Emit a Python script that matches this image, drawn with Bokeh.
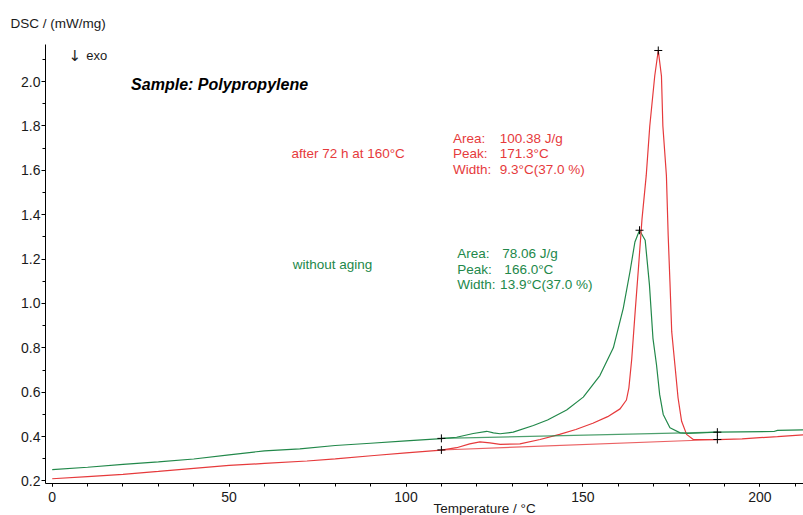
from bokeh.plotting import figure
from bokeh.models import (Range1d, SingleIntervalTicker, PrintfTickFormatter,
                          Label, Title)
from bokeh.embed import file_html
from bokeh.resources import INLINE

# ---------------- data ----------------
# without aging (green)
t_green = [0, 10, 20, 30, 40, 50, 60, 70, 80, 90, 100, 110, 114.3, 119, 122.8,
           124.7, 126.6, 130.3, 136, 140, 145.4, 150.1, 154.8, 158.6, 161.4,
           163.3, 164.7, 166.0, 167.6, 168.8, 169.8, 170.8, 171.7, 172.7,
           174.6, 177.5, 179.5, 188, 204, 205, 212.5]
dsc_green = [0.251, 0.262, 0.275, 0.286, 0.299, 0.318, 0.336, 0.345, 0.360,
             0.370, 0.381, 0.391, 0.397, 0.414, 0.424, 0.417, 0.413, 0.420,
             0.450, 0.475, 0.520, 0.578, 0.675, 0.800, 0.978, 1.143, 1.277,
             1.330, 1.285, 1.085, 0.843, 0.724, 0.589, 0.500, 0.440, 0.417,
             0.414, 0.420, 0.423, 0.428, 0.430]

# after 72 h at 160 °C (red)
t_red = [0, 10, 20, 30, 40, 50, 60, 72, 80, 91, 100, 110, 114.3, 118, 120.9,
         123.7, 126.6, 132.2, 137.9, 143.4, 148, 152.8, 157, 160.5, 162.3,
         163.0, 163.8, 164.8, 165.7, 166.7, 167.9, 168.9, 170.3, 171.3, 172.2,
         172.6, 173.6, 174.1, 174.6, 175.1, 176.0, 176.9, 177.9, 179.3, 181.2,
         188, 195, 200, 205, 212.5]
dsc_red = [0.210, 0.220, 0.230, 0.243, 0.257, 0.270, 0.279, 0.290, 0.300,
           0.315, 0.327, 0.339, 0.350, 0.367, 0.376, 0.372, 0.365, 0.367,
           0.387, 0.410, 0.432, 0.460, 0.490, 0.525, 0.565, 0.620, 0.750,
           0.970, 1.160, 1.380, 1.577, 1.800, 2.025, 2.140, 2.025, 1.800,
           1.577, 1.307, 1.098, 0.873, 0.724, 0.574, 0.469, 0.410, 0.387,
           0.386, 0.390, 0.395, 0.400, 0.408]

# integration baselines (start / end)
base_t = [110, 188]
base_green = [0.392, 0.420]
base_red = [0.340, 0.387]

# peak markers
peak_t = [171.3, 166.0]
peak_v = [2.140, 1.330]

x_ticks_interval = 50
y_ticks_interval = 0.2

red = "#e63a3c"
green = "#22884a"
FONT = "Liberation Sans"

red_lines = ["Area:", "Peak:", "Width:"]
red_vals = ["100.38 J/g", "171.3°C", "9.3°C(37.0 %)"]
green_lines = ["Area:", "Peak:", "Width:"]
green_vals = ["78.06 J/g", "166.0°C", "13.9°C(37.0 %)"]

# ---------------- figure ----------------
p = figure(width=803, height=515, output_backend="svg", toolbar_location=None,
           x_range=Range1d(-1.9, 212.35), y_range=Range1d(0.1887, 2.167),
           min_border_left=45, min_border_right=0, min_border_top=44,
           min_border_bottom=32)
p.outline_line_color = None
p.xgrid.visible = False
p.ygrid.visible = False
p.background_fill_color = "white"
p.border_fill_color = "white"

# y-axis title at top-left
p.title.text = "DSC / (mW/mg)"
p.title.align = "left"
p.title.offset = -35
p.title.standoff = 27
p.title.text_font = FONT
p.title.text_font_size = "13.5px"
p.title.text_font_style = "normal"
p.title.text_color = "#1a1a1a"

p.xaxis.ticker = SingleIntervalTicker(interval=x_ticks_interval, num_minor_ticks=5)
p.yaxis.ticker = SingleIntervalTicker(interval=y_ticks_interval, num_minor_ticks=2)
p.yaxis.formatter = PrintfTickFormatter(format="%.1f")

for ax in (p.xaxis[0], p.yaxis[0]):
    ax.axis_line_color = "black"
    ax.axis_line_width = 1
    ax.major_tick_line_color = "black"
    ax.minor_tick_line_color = "black"
    ax.major_tick_in = 0
    ax.minor_tick_in = 0
    ax.major_label_text_font = FONT
    ax.major_label_text_font_size = "14px"
    ax.major_label_text_color = "#1a1a1a"

p.yaxis.major_tick_out = 4
p.yaxis.minor_tick_out = 3
p.yaxis.major_label_standoff = 1
p.xaxis.major_tick_out = 3
p.xaxis.minor_tick_out = 3
p.xaxis.major_label_standoff = 5

# x-axis title, below the tick labels
xt = Title(text="Temperature / °C", align="left", offset=388, standoff=-12,
           text_font=FONT, text_font_size="13.5px", text_font_style="normal",
           text_color="#1a1a1a")
p.add_layout(xt, "below")

# curves
p.line(t_green, dsc_green, line_color=green, line_width=1.2)
p.line(t_red, dsc_red, line_color=red, line_width=1.2)
p.line(base_t, base_green, line_color=green, line_width=1.1, line_alpha=0.8)
p.line(base_t, base_red, line_color=red, line_width=1.1, line_alpha=0.8)

# markers
mk_t = base_t + base_t + peak_t
mk_v = base_green + base_red + peak_v
p.scatter(mk_t, mk_v, marker="cross", size=8, line_color="black", line_width=1)

def lab(x, y, text, color="black", size="13.5px", style="normal", font=FONT):
    p.add_layout(Label(x=x, y=y, text=text, text_color=color,
                       text_font=font, text_font_size=size,
                       text_font_style=style, text_baseline="middle",
                       text_align="left"))

lab(4.6, 2.117, "↓", size="15px", font="DejaVu Sans", color="#1a1a1a")
lab(9.6, 2.117, "exo", size="13px", color="#1a1a1a")
lab(22.3, 1.987, "Sample: Polypropylene", size="16px", style="bold italic")

lab(67.6, 1.676, "after 72 h at 160°C", color=red)
lab(68.0, 1.174, "without aging", color=green)

red_y = [1.745, 1.675, 1.603]
for t, v, yy in zip(red_lines, red_vals, red_y):
    lab(113.3, yy, t, color=red)
    lab(126.5, yy, v, color=red)

green_y = [1.224, 1.153, 1.084]
green_vx = [127.2, 127.8, 126.6]
for t, v, yy, vx in zip(green_lines, green_vals, green_y, green_vx):
    lab(114.5, yy, t, color=green)
    lab(vx, yy, v, color=green)

open("out.html", "w").write(file_html(p, INLINE))
